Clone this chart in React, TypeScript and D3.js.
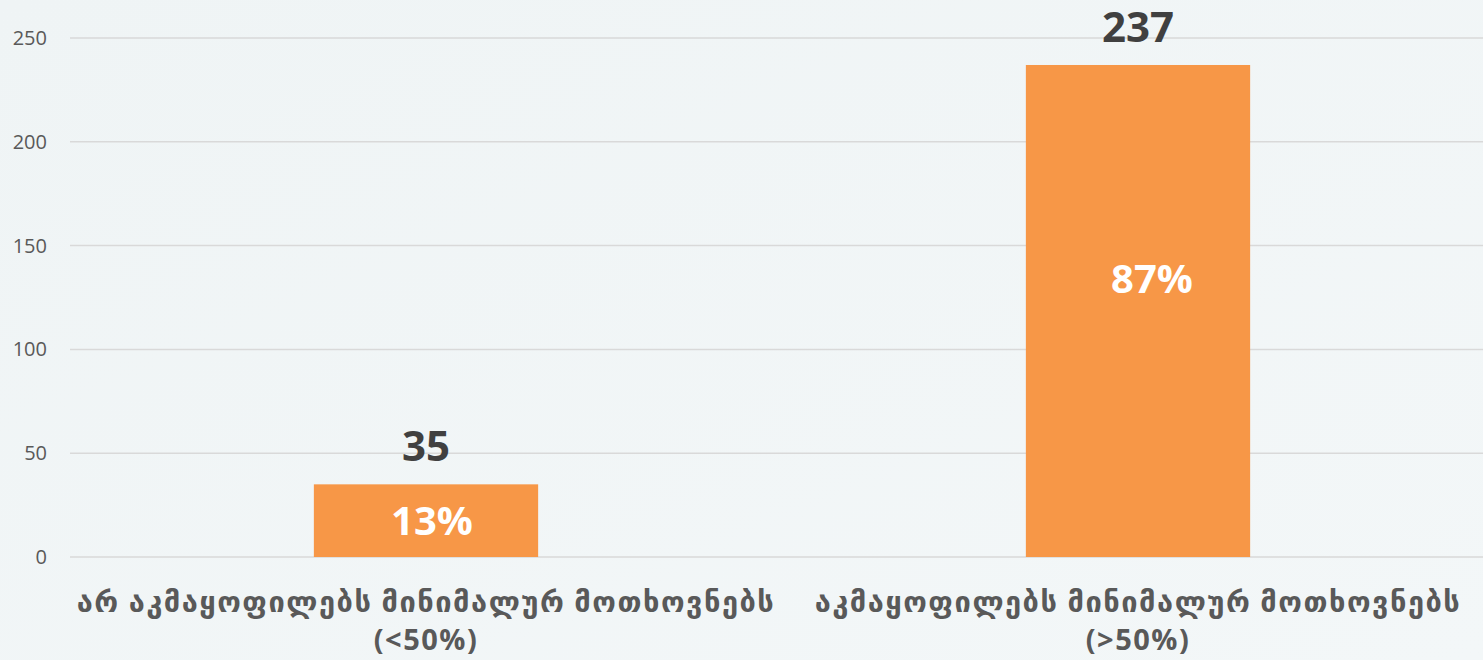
import React, { useEffect, useRef } from "react";
import * as d3 from "d3";

const categories = [
  "არ აკმაყოფილებს მინიმალურ მოთხოვნებს|(<50%)",
  "აკმაყოფილებს მინიმალურ მოთხოვნებს|(>50%)",
];
const counts = [35, 237];
const shares = ["13%", "87%"];
const yTicks = [0, 50, 100, 150, 200, 250];

// where the percent label sits inside each bar (fraction of bar height) and a small x nudge
const shareAt = [0.5, 0.565];
const shareDx = [6, 14];

const W = 1483, H = 660;
const FONT = "'Open Sans', 'DejaVu Sans', sans-serif";

export default function App() {
  const ref = useRef<SVGSVGElement>(null);

  useEffect(() => {
    const svg = d3.select(ref.current);
    svg.selectAll("*").remove();

    const x = d3.scaleBand<string>()
      .domain(categories)
      .range([70, 1494])
      .paddingInner(0.685)
      .paddingOuter(0.3425);

    const y = d3.scaleLinear().domain([0, 250]).range([557, 38]);

    const defs = svg.append("defs");
    const grad = defs.append("linearGradient").attr("id", "bg")
      .attr("x1", "0").attr("y1", "0").attr("x2", "1").attr("y2", "1");
    grad.append("stop").attr("offset", "0").attr("stop-color", "#eff4f5");
    grad.append("stop").attr("offset", "1").attr("stop-color", "#f3f7f8");
    svg.append("rect").attr("width", W).attr("height", H).attr("fill", "url(#bg)");

    const g = svg.append("g");

    // grid
    g.selectAll("line.grid").data(yTicks).enter().append("line")
      .attr("class", "grid")
      .attr("x1", 70).attr("x2", W)
      .attr("y1", d => y(d)).attr("y2", d => y(d))
      .attr("stroke", "#d9d9d9").attr("stroke-width", 1.5);

    g.selectAll("text.ytick").data(yTicks).enter().append("text")
      .attr("class", "ytick")
      .attr("x", 47).attr("y", d => y(d))
      .attr("dy", "0.35em")
      .attr("text-anchor", "end")
      .attr("font-family", FONT).attr("font-size", 20)
      .attr("fill", "#595959")
      .text(d => d);

    // bars
    g.selectAll("rect.bar").data(counts).enter().append("rect")
      .attr("class", "bar")
      .attr("x", (d, i) => x(categories[i])!)
      .attr("width", x.bandwidth())
      .attr("y", d => y(d))
      .attr("height", d => y(0) - y(d))
      .attr("fill", "#f79747");

    // values above bars
    g.selectAll("text.val").data(counts).enter().append("text")
      .attr("class", "val")
      .attr("x", (d, i) => x(categories[i])! + x.bandwidth() / 2)
      .attr("y", d => y(d) - 23)
      .attr("text-anchor", "middle")
      .attr("font-family", FONT).attr("font-weight", "bold").attr("font-size", 42)
      .attr("fill", "#404040")
      .text(d => d);

    // percent inside bars
    g.selectAll("text.pct").data(counts).enter().append("text")
      .attr("class", "pct")
      .attr("x", (d, i) => x(categories[i])! + x.bandwidth() / 2 + shareDx[i])
      .attr("y", (d, i) => y(d * shareAt[i]))
      .attr("dy", "0.36em")
      .attr("text-anchor", "middle")
      .attr("font-family", FONT).attr("font-weight", "bold").attr("font-size", 40)
      .attr("fill", "#ffffff")
      .text((d, i) => shares[i]);

    // category labels
    const cat = g.selectAll("text.cat").data(categories).enter().append("text")
      .attr("class", "cat")
      .attr("x", d => x(d)! + x.bandwidth() / 2)
      .attr("y", 612)
      .attr("text-anchor", "middle")
      .attr("font-family", FONT).attr("font-weight", "bold").attr("font-size", 29)
      .attr("letter-spacing", 1.5)
      .attr("fill", "#595959");
    cat.selectAll("tspan").data(d => d.split("|")).enter().append("tspan")
      .attr("x", function () { return (this.parentNode as SVGTextElement).getAttribute("x"); })
      .attr("dy", (d, i) => (i === 0 ? 0 : 38))
      .text(d => d);
  }, []);

  return (
    <div style={{ position: "absolute", left: 0, top: 0 }}>
      <svg ref={ref} width={W} height={H} style={{ display: "block" }} />
    </div>
  );
}
